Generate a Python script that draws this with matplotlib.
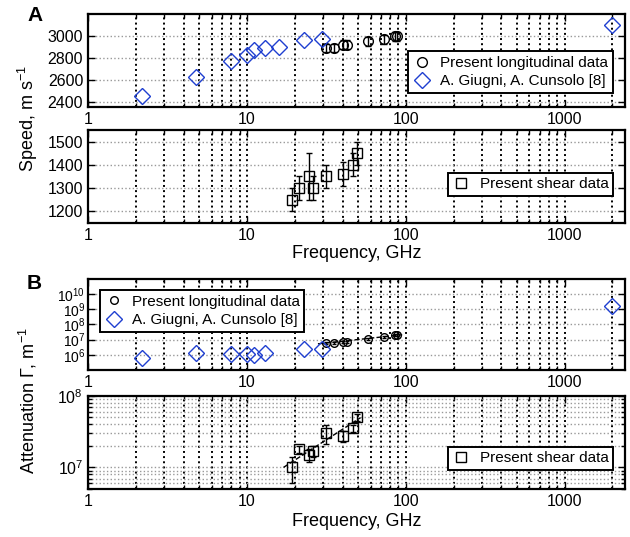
import matplotlib
matplotlib.use("Agg")
import matplotlib.pyplot as plt
from matplotlib.ticker import LogLocator, NullFormatter, FixedLocator, FixedFormatter

plt.rcParams['font.family'] = ['Liberation Sans', 'DejaVu Sans']
plt.rcParams['mathtext.fontset'] = 'custom'
plt.rcParams['mathtext.rm'] = 'Liberation Sans'
plt.rcParams['mathtext.it'] = 'Liberation Sans:italic'

# --- data (frequencies in GHz) ---
# literature (A. Giugni, A. Cunsolo [8])
ref_freq = [2.2, 4.8, 8.0, 10.0, 11.1, 13.0, 16.0, 22.8, 29.8, 2000]
ref_speed = [2450, 2620, 2770, 2830, 2870, 2885, 2900, 2960, 2970, 3100]
ref_att_freq = [2.2, 4.8, 8.0, 10.0, 11.1, 13.0, 22.8, 29.8, 2000]
ref_att = [6.0e5, 1.3e6, 1.1e6, 1.1e6, 1.0e6, 1.3e6, 2.5e6, 2.4e6, 1.6e9]

# present longitudinal data
long_freq = [31.4, 35.3, 40.3, 42.6, 58.0, 73.0, 85.3, 88.2]
long_speed = [2890, 2890, 2920, 2920, 2950, 2970, 2995, 2995]
long_speed_err = [40, 40, 40, 40, 40, 40, 40, 40]
long_att = [6.0e6, 6.0e6, 7.5e6, 7.5e6, 1.1e7, 1.6e7, 2.0e7, 2.0e7]
long_att_err = [1.0e6, 1.0e6, 1.2e6, 1.2e6, 1.5e6, 2.5e6, 3.0e6, 3.0e6]
long_fit_freq = [28, 95]
long_fit_att = [5.3e6, 2.1e7]

# present shear data
shear_freq = [19.2, 21.3, 24.5, 26.0, 31.5, 40.2, 46.6, 49.4]
shear_speed = [1250, 1300, 1350, 1300, 1350, 1360, 1400, 1450]
shear_speed_err = [50, 50, 100, 50, 50, 50, 50, 50]
shear_att = [1.0e7, 1.78e7, 1.48e7, 1.7e7, 3.0e7, 2.75e7, 3.5e7, 5.0e7]
shear_att_err = [4.0e6, 2.0e6, 3.0e6, 3.0e6, 9.0e6, 5.0e6, 4.0e6, 6.0e6]
shear_fit_freq = [17, 52]
shear_fit_att = [1.0e7, 4.95e7]

BLUE = '#1f3fd0'
XLIM = (1, 2400)


def style_axes(ax):
    ax.set_xscale('log')
    ax.set_xlim(*XLIM)
    ax.xaxis.set_major_locator(FixedLocator([1, 10, 100, 1000]))
    ax.xaxis.set_major_formatter(FixedFormatter(['1', '10', '100', '1000']))
    ax.xaxis.set_minor_locator(LogLocator(base=10, subs=range(2, 10), numticks=20))
    ax.xaxis.set_minor_formatter(NullFormatter())
    ax.grid(True, axis='x', which='both', color='black', linestyle=':', linewidth=1.4)
    ax.tick_params(which='both', direction='in', top=True, right=True, labelsize=11.5)
    ax.tick_params(which='major', length=5, width=1)
    ax.tick_params(which='minor', length=3, width=1)
    for s in ax.spines.values():
        s.set_linewidth(1.6)


def legend(ax, **kw):
    leg = ax.legend(fancybox=False, edgecolor='black', framealpha=1,
                    fontsize=11, handletextpad=0.6, borderpad=0.3,
                    labelspacing=0.3, handlelength=1.2, borderaxespad=0, **kw)
    leg.get_frame().set_linewidth(1.4)
    return leg


fig = plt.figure(figsize=(6.3, 5.37), dpi=100)
ax1 = fig.add_axes([0.1397, 0.8007, 0.8524, 0.1732])
ax2 = fig.add_axes([0.1397, 0.5853, 0.8524, 0.1726])
ax3 = fig.add_axes([0.1397, 0.3110, 0.8524, 0.1695])
ax4 = fig.add_axes([0.1397, 0.0894, 0.8524, 0.1737])

# A: longitudinal speed
style_axes(ax1)
ax1.errorbar(long_freq, long_speed, yerr=long_speed_err, fmt='none',
             ecolor='black', elinewidth=1, capsize=2.5)
ax1.plot(long_freq, long_speed, 'o', mfc='none', mec='black', ms=7,
         mew=1, label='Present longitudinal data')
ax1.plot(ref_freq, ref_speed, 'D', mfc='none', mec=BLUE, ms=8,
         mew=1, label='A. Giugni, A. Cunsolo [8]')
ax1.set_ylim(2350, 3200)
ax1.set_yticks([2400, 2600, 2800, 3000])
ax1.grid(True, axis='y', color='#999999', linestyle=':', linewidth=1)
legend(ax1, loc='lower right', bbox_to_anchor=(0.977, 0.15))

# A: shear speed
style_axes(ax2)
ax2.errorbar(shear_freq, shear_speed, yerr=shear_speed_err, fmt='none',
             ecolor='black', elinewidth=1, capsize=2.5)
ax2.plot(shear_freq, shear_speed, 's', mfc='none', mec='black', ms=6.5,
         mew=1, label='Present shear data')
ax2.set_ylim(1150, 1550)
ax2.set_yticks([1200, 1300, 1400, 1500])
ax2.grid(True, axis='y', color='#999999', linestyle=':', linewidth=1)
legend(ax2, loc='lower right', bbox_to_anchor=(0.978, 0.288))
ax2.set_xlabel('Frequency, GHz', fontsize=13, labelpad=2)

# B: longitudinal attenuation
style_axes(ax3)
ax3.set_yscale('log')
ax3.plot(long_fit_freq, long_fit_att, '--', color='black', linewidth=1)
ax3.errorbar(long_freq, long_att, yerr=long_att_err, fmt='none',
             ecolor='black', elinewidth=1, capsize=1.5)
ax3.plot(long_freq, long_att, 'o', mfc='none', mec='black', ms=5.5,
         mew=1, label='Present longitudinal data')
ax3.plot(ref_att_freq, ref_att, 'D', mfc='none', mec=BLUE, ms=8,
         mew=1, label='A. Giugni, A. Cunsolo [8]')
ax3.set_ylim(1e5, 1e11)
ax3.yaxis.set_major_locator(FixedLocator([1e6, 1e7, 1e8, 1e9, 1e10]))
ax3.yaxis.set_major_formatter(FixedFormatter([r'$10^6$', r'$10^7$', r'$10^8$',
                                              r'$10^9$', r'$10^{10}$']))
ax3.yaxis.set_minor_locator(FixedLocator([]))
ax3.tick_params(axis='y', labelsize=10, pad=2)
ax3.grid(True, axis='y', which='major', color='#999999', linestyle=':', linewidth=1)
legend(ax3, loc='upper left', bbox_to_anchor=(0.022, 0.879))

# B: shear attenuation
style_axes(ax4)
ax4.set_yscale('log')
ax4.plot(shear_fit_freq, shear_fit_att, '--', color='black', linewidth=1)
ax4.errorbar(shear_freq, shear_att, yerr=shear_att_err, fmt='none',
             ecolor='black', elinewidth=1, capsize=2)
ax4.plot(shear_freq, shear_att, 's', mfc='none', mec='black', ms=6.5,
         mew=1, label='Present shear data')
ax4.set_ylim(5e6, 1e8)
ax4.yaxis.set_major_locator(FixedLocator([1e7, 1e8]))
ax4.yaxis.set_major_formatter(FixedFormatter([r'$10^7$', r'$10^8$']))
ax4.yaxis.set_minor_locator(LogLocator(base=10, subs=range(2, 10), numticks=10))
ax4.yaxis.set_minor_formatter(NullFormatter())
ax4.grid(True, axis='y', which='both', color='#999999', linestyle=':', linewidth=1)
legend(ax4, loc='lower right', bbox_to_anchor=(0.978, 0.204))
ax4.set_xlabel('Frequency, GHz', fontsize=13, labelpad=3)

fig.text(0.045, 0.78, r'Speed, m s$^{-1}$', rotation=90, fontsize=13,
         ha='center', va='center')
fig.text(0.045, 0.255, r'Attenuation $\Gamma$, m$^{-1}$', rotation=90,
         fontsize=13, ha='center', va='center')
fig.text(0.055, 0.972, 'A', fontsize=15, fontweight='bold', ha='center', va='center')
fig.text(0.055, 0.472, 'B', fontsize=15, fontweight='bold', ha='center', va='center')

fig.savefig('out.png', dpi=100)
